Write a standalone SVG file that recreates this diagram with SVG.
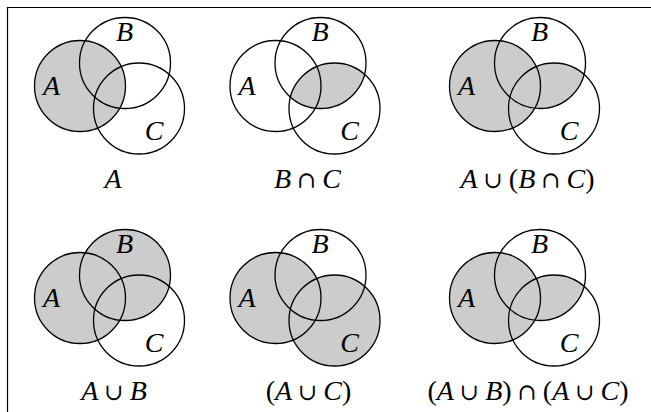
<svg xmlns="http://www.w3.org/2000/svg" width="651" height="412" viewBox="0 0 651 412">
<style>
.c{fill:none;stroke:#000;stroke-width:1.3}
.s{fill:#cccccc;stroke:none}
text{font-family:"Liberation Serif",serif;font-size:28px;fill:#000}
.i{font-style:italic}
.op{font-family:"DejaVu Serif",serif;font-size:23px}
.l{text-anchor:middle;font-style:italic}
.cap{text-anchor:middle}
</style>
<defs>
<clipPath id="clipB" clipPathUnits="userSpaceOnUse"><circle cx="45" cy="-23" r="45.5"/></clipPath>
<g id="circles">
<circle class="c" cx="0" cy="0" r="45.5"/>
<circle class="c" cx="45" cy="-23" r="45.5"/>
<circle class="c" cx="59" cy="22.5" r="45.5"/>
</g>
<g id="labels">
<text class="l" x="-28.5" y="9">A</text>
<text class="l" x="44.5" y="-45">B</text>
<text class="l" x="74" y="54">C</text>
</g>
</defs>
<rect x="0" y="0" width="651" height="412" fill="#fff"/>
<path d="M7.5,412 V7.5 H651" fill="none" stroke="#000" stroke-width="1.2"/>

<g id="d1" transform="translate(80,86)">
<circle class="s" cx="0" cy="0" r="45.5"/>
<use href="#circles"/><use href="#labels"/>
<text class="cap" x="33" y="102"><tspan class="i">A</tspan></text>
</g>

<g id="d2" transform="translate(275.5,86)">
<circle class="s" cx="59" cy="22.5" r="45.5" clip-path="url(#clipB)"/>
<use href="#circles"/><use href="#labels"/>
<text class="cap" x="32" y="102"><tspan class="i">B</tspan><tspan class="op" dx="6">∩</tspan><tspan class="i" dx="6">C</tspan></text>
</g>

<g id="d3" transform="translate(495,86)">
<circle class="s" cx="0" cy="0" r="45.5"/>
<circle class="s" cx="59" cy="22.5" r="45.5" clip-path="url(#clipB)"/>
<use href="#circles"/><use href="#labels"/>
<text class="cap" x="32.5" y="102"><tspan class="i">A</tspan><tspan class="op" dx="6">∪</tspan><tspan dx="6">(</tspan><tspan class="i">B</tspan><tspan class="op" dx="6">∩</tspan><tspan class="i" dx="6">C</tspan>)</text>
</g>

<g id="d4" transform="translate(80,298)">
<circle class="s" cx="0" cy="0" r="45.5"/>
<circle class="s" cx="45" cy="-23" r="45.5"/>
<use href="#circles"/><use href="#labels"/>
<text class="cap" x="34" y="101.5"><tspan class="i">A</tspan><tspan class="op" dx="6">∪</tspan><tspan class="i" dx="6">B</tspan></text>
</g>

<g id="d5" transform="translate(275.5,298)">
<circle class="s" cx="0" cy="0" r="45.5"/>
<circle class="s" cx="59" cy="22.5" r="45.5"/>
<use href="#circles"/><use href="#labels"/>
<text class="cap" x="33" y="101.5">(<tspan class="i">A</tspan><tspan class="op" dx="6">∪</tspan><tspan class="i" dx="6">C</tspan>)</text>
</g>

<g id="d6" transform="translate(495,298)">
<circle class="s" cx="0" cy="0" r="45.5"/>
<circle class="s" cx="59" cy="22.5" r="45.5" clip-path="url(#clipB)"/>
<use href="#circles"/><use href="#labels"/>
<text class="cap" x="33" y="101.5">(<tspan class="i">A</tspan><tspan class="op" dx="6">∪</tspan><tspan class="i" dx="6">B</tspan>)<tspan class="op" dx="6">∩</tspan><tspan dx="6">(</tspan><tspan class="i">A</tspan><tspan class="op" dx="6">∪</tspan><tspan class="i" dx="6">C</tspan>)</text>
</g>
</svg>
